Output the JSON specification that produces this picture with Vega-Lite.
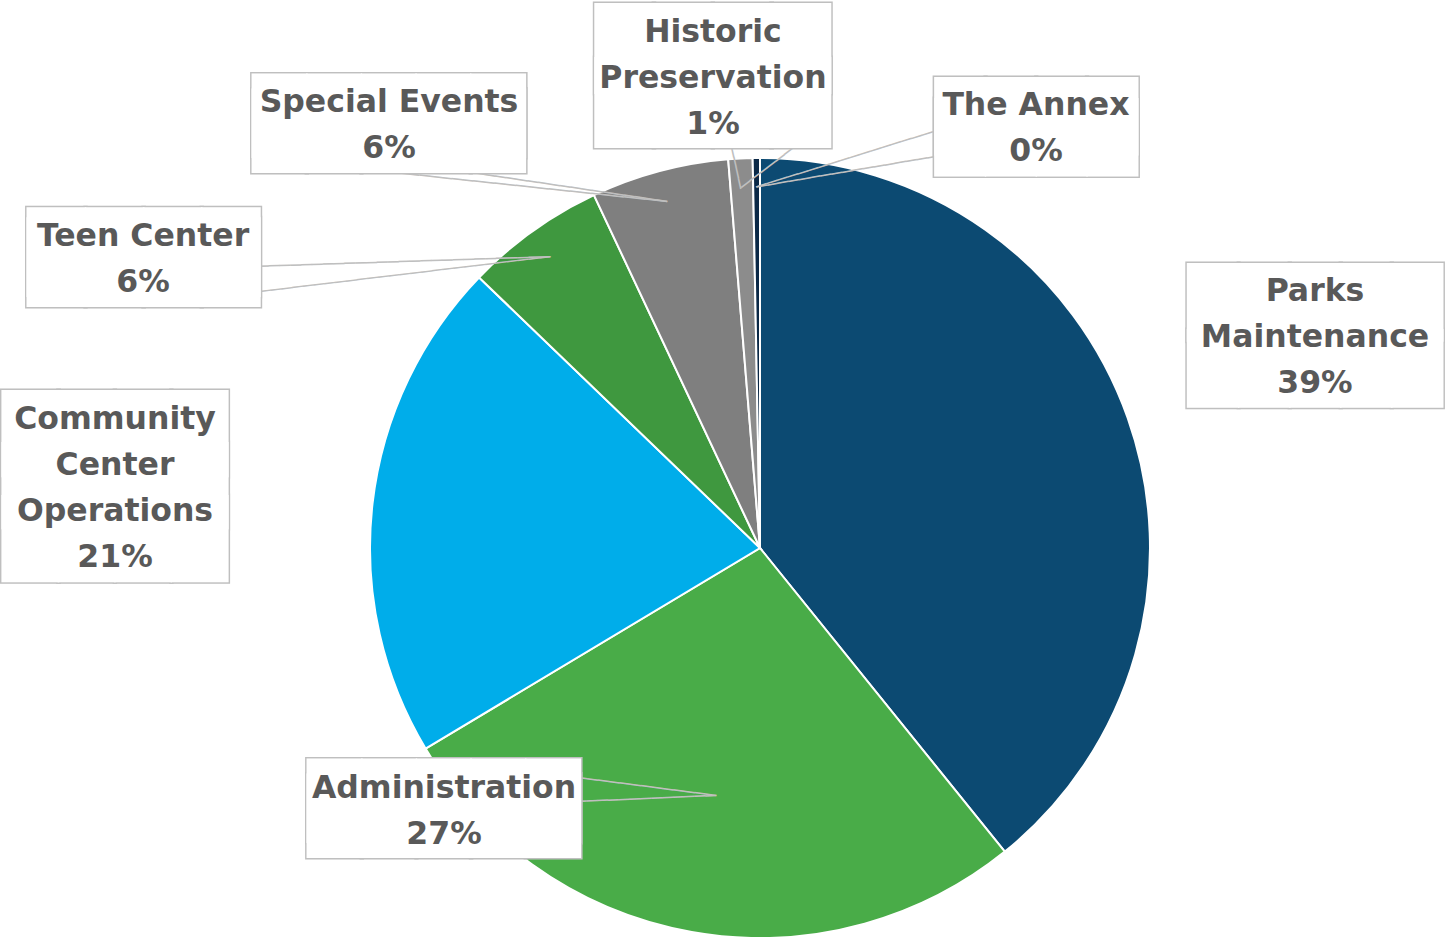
{
  "$schema": "https://vega.github.io/schema/vega-lite/v6.json",
  "width": 1370,
  "height": 778,
  "padding": {"left": 75, "top": 159, "right": 0, "bottom": 0},
  "autosize": {"type": "none"},
  "background": "white",
  "config": {"view": {"stroke": null}},
  "data": {
    "values": [
      {"category": "Parks Maintenance", "share": 0.392, "order": 1, "lines": ["Parks", "Maintenance", "39%"]},
      {"category": "Administration", "share": 0.272, "order": 2, "lines": ["Administration", "27%"]},
      {"category": "Community Center Operations", "share": 0.208, "order": 3, "lines": ["Community", "Center", "Operations", "21%"]},
      {"category": "Teen Center", "share": 0.058, "order": 4, "lines": ["Teen Center", "6%"]},
      {"category": "Special Events", "share": 0.057, "order": 5, "lines": ["Special Events", "6%"]},
      {"category": "Historic Preservation", "share": 0.010, "order": 6, "lines": ["Historic", "Preservation", "1%"]},
      {"category": "The Annex", "share": 0.003, "order": 7, "lines": ["The Annex", "0%"]}
    ]
  },
  "encoding": {
    "theta": {"field": "share", "type": "quantitative", "stack": true},
    "order": {"field": "order", "type": "quantitative", "sort": "ascending"},
    "detail": {"field": "category", "type": "nominal"}
  },
  "layer": [
    {
      "mark": {"type": "arc", "outerRadius": 390, "stroke": "white", "strokeWidth": 2},
      "encoding": {
        "color": {
          "field": "category",
          "type": "nominal",
          "scale": {
            "domain": ["Parks Maintenance", "Administration", "Community Center Operations", "Teen Center", "Special Events", "Historic Preservation", "The Annex"],
            "range": ["#0C4A72", "#49AC48", "#00ADEA", "#3F983F", "#7F7F7F", "#8C8C8C", "#0A2846"]
          },
          "legend": null
        }
      }
    },

    {"mark": {"type": "text", "radius": 360, "angle": 178.11, "font": "DejaVu Sans", "fontSize": 18, "align": "left", "baseline": "middle", "fill": "#BFBFBF"},
     "encoding": {"text": {"condition": {"test": "datum.category === 'Teen Center'", "value": "────────────────────────────"}, "value": ""}}},
    {"mark": {"type": "text", "radius": 360, "angle": 173.17, "font": "DejaVu Sans", "fontSize": 18, "align": "left", "baseline": "middle", "fill": "#BFBFBF"},
     "encoding": {"text": {"condition": {"test": "datum.category === 'Teen Center'", "value": "────────────────────────────"}, "value": ""}}},
    {"mark": {"type": "text", "radius": 360, "angle": -173.96, "font": "DejaVu Sans", "fontSize": 18, "align": "left", "baseline": "middle", "fill": "#BFBFBF"},
     "encoding": {"text": {"condition": {"test": "datum.category === 'Special Events'", "value": "─────────────────────────"}, "value": ""}}},
    {"mark": {"type": "text", "radius": 360, "angle": -171.6, "font": "DejaVu Sans", "fontSize": 18, "align": "left", "baseline": "middle", "fill": "#BFBFBF"},
     "encoding": {"text": {"condition": {"test": "datum.category === 'Special Events'", "value": "───────────────────"}, "value": ""}}},
    {"mark": {"type": "text", "radius": 360, "angle": -102.4, "font": "DejaVu Sans", "fontSize": 18, "align": "left", "baseline": "middle", "fill": "#BFBFBF"},
     "encoding": {"text": {"condition": {"test": "datum.category === 'Historic Preservation'", "value": "─────"}, "value": ""}}},
    {"mark": {"type": "text", "radius": 360, "angle": -37.3, "font": "DejaVu Sans", "fontSize": 18, "align": "left", "baseline": "middle", "fill": "#BFBFBF"},
     "encoding": {"text": {"condition": {"test": "datum.category === 'Historic Preservation'", "value": "───────"}, "value": ""}}},
    {"mark": {"type": "text", "radius": 360, "angle": -17.32, "font": "DejaVu Sans", "fontSize": 18, "align": "left", "baseline": "middle", "fill": "#BFBFBF"},
     "encoding": {"text": {"condition": {"test": "datum.category === 'The Annex'", "value": "──────────────────"}, "value": ""}}},
    {"mark": {"type": "text", "radius": 360, "angle": -9.65, "font": "DejaVu Sans", "fontSize": 18, "align": "left", "baseline": "middle", "fill": "#BFBFBF"},
     "encoding": {"text": {"condition": {"test": "datum.category === 'The Annex'", "value": "──────────────────"}, "value": ""}}},
    {"mark": {"type": "text", "radius": 250, "angle": -172.64, "font": "DejaVu Sans", "fontSize": 18, "align": "left", "baseline": "middle", "fill": "#BFBFBF"},
     "encoding": {"text": {"condition": {"test": "datum.category === 'Administration'", "value": "──────────────"}, "value": ""}}},
    {"mark": {"type": "text", "radius": 250, "angle": 177.5, "font": "DejaVu Sans", "fontSize": 18, "align": "left", "baseline": "middle", "fill": "#BFBFBF"},
     "encoding": {"text": {"condition": {"test": "datum.category === 'Administration'", "value": "──────────────"}, "value": ""}}},

    {"mark": {"type": "text", "radius": 365, "dx": 210.8, "dy": -101.9, "font": "DejaVu Sans", "fontSize": 66.4, "lineHeight": 66.7, "align": "center", "baseline": "alphabetic", "fill": "white", "stroke": "#BFBFBF", "strokeWidth": 3},
     "encoding": {"text": {"condition": {"test": "datum.category === 'Parks Maintenance'", "value": ["█████", "█████"]}, "value": ""}}},
    {"mark": {"type": "text", "radius": 365, "dx": -252.1, "dy": -82.5, "font": "DejaVu Sans", "fontSize": 71.0, "lineHeight": 15.3, "align": "center", "baseline": "alphabetic", "fill": "white", "stroke": "#BFBFBF", "strokeWidth": 3},
     "encoding": {"text": {"condition": {"test": "datum.category === 'Administration'", "value": ["█████", "█████"]}, "value": ""}}},
    {"mark": {"type": "text", "radius": 365, "dx": -282.3, "dy": -47.7, "font": "DejaVu Sans", "fontSize": 73.4, "lineHeight": 52.3, "align": "center", "baseline": "alphabetic", "fill": "white", "stroke": "#BFBFBF", "strokeWidth": 3},
     "encoding": {"text": {"condition": {"test": "datum.category === 'Community Center Operations'", "value": ["████", "████", "████"]}, "value": ""}}},
    {"mark": {"type": "text", "radius": 365, "dx": -403.8, "dy": 26.8, "font": "DejaVu Sans", "fontSize": 75.6, "lineHeight": 10, "align": "center", "baseline": "alphabetic", "fill": "white", "stroke": "#BFBFBF", "strokeWidth": 3},
     "encoding": {"text": {"condition": {"test": "datum.category === 'Teen Center'", "value": ["████", "████"]}, "value": ""}}},
    {"mark": {"type": "text", "radius": 365, "dx": -276.9, "dy": -55.4, "font": "DejaVu Sans", "fontSize": 71.0, "lineHeight": 15.3, "align": "center", "baseline": "alphabetic", "fill": "white", "stroke": "#BFBFBF", "strokeWidth": 3},
     "encoding": {"text": {"condition": {"test": "datum.category === 'Special Events'", "value": ["█████", "█████"]}, "value": ""}}},
    {"mark": {"type": "text", "radius": 365, "dx": -28.7, "dy": -108.4, "font": "DejaVu Sans", "fontSize": 76.6, "lineHeight": 53.9, "align": "center", "baseline": "alphabetic", "fill": "white", "stroke": "#BFBFBF", "strokeWidth": 3},
     "encoding": {"text": {"condition": {"test": "datum.category === 'Historic Preservation'", "value": ["████", "████"]}, "value": ""}}},
    {"mark": {"type": "text", "radius": 365, "dx": 279.9, "dy": -43.8, "font": "DejaVu Sans", "fontSize": 66.0, "lineHeight": 21.2, "align": "center", "baseline": "alphabetic", "fill": "white", "stroke": "#BFBFBF", "strokeWidth": 3},
     "encoding": {"text": {"condition": {"test": "datum.category === 'The Annex'", "value": ["████", "████"]}, "value": ""}}},

    {"mark": {"type": "text", "radius": 365, "dx": 210.8, "dy": -101.9, "font": "DejaVu Sans", "fontSize": 66.4, "lineHeight": 66.7, "align": "center", "baseline": "alphabetic", "fill": "white"},
     "encoding": {"text": {"condition": {"test": "datum.category === 'Parks Maintenance'", "value": ["█████", "█████"]}, "value": ""}}},
    {"mark": {"type": "text", "radius": 365, "dx": -252.1, "dy": -82.5, "font": "DejaVu Sans", "fontSize": 71.0, "lineHeight": 15.3, "align": "center", "baseline": "alphabetic", "fill": "white"},
     "encoding": {"text": {"condition": {"test": "datum.category === 'Administration'", "value": ["█████", "█████"]}, "value": ""}}},
    {"mark": {"type": "text", "radius": 365, "dx": -282.3, "dy": -47.7, "font": "DejaVu Sans", "fontSize": 73.4, "lineHeight": 52.3, "align": "center", "baseline": "alphabetic", "fill": "white"},
     "encoding": {"text": {"condition": {"test": "datum.category === 'Community Center Operations'", "value": ["████", "████", "████"]}, "value": ""}}},
    {"mark": {"type": "text", "radius": 365, "dx": -403.8, "dy": 26.8, "font": "DejaVu Sans", "fontSize": 75.6, "lineHeight": 10, "align": "center", "baseline": "alphabetic", "fill": "white"},
     "encoding": {"text": {"condition": {"test": "datum.category === 'Teen Center'", "value": ["████", "████"]}, "value": ""}}},
    {"mark": {"type": "text", "radius": 365, "dx": -276.9, "dy": -55.4, "font": "DejaVu Sans", "fontSize": 71.0, "lineHeight": 15.3, "align": "center", "baseline": "alphabetic", "fill": "white"},
     "encoding": {"text": {"condition": {"test": "datum.category === 'Special Events'", "value": ["█████", "█████"]}, "value": ""}}},
    {"mark": {"type": "text", "radius": 365, "dx": -28.7, "dy": -108.4, "font": "DejaVu Sans", "fontSize": 76.6, "lineHeight": 53.9, "align": "center", "baseline": "alphabetic", "fill": "white"},
     "encoding": {"text": {"condition": {"test": "datum.category === 'Historic Preservation'", "value": ["████", "████"]}, "value": ""}}},
    {"mark": {"type": "text", "radius": 365, "dx": 279.9, "dy": -43.8, "font": "DejaVu Sans", "fontSize": 66.0, "lineHeight": 21.2, "align": "center", "baseline": "alphabetic", "fill": "white"},
     "encoding": {"text": {"condition": {"test": "datum.category === 'The Annex'", "value": ["████", "████"]}, "value": ""}}},

    {"mark": {"type": "text", "radius": 365, "dx": 210.8, "dy": -134.5, "font": "DejaVu Sans", "fontWeight": "bold", "fontSize": 31.5, "fill": "#595959", "align": "center", "baseline": "middle", "lineHeight": 46},
     "encoding": {"text": {"condition": {"test": "datum.category === 'Parks Maintenance'", "field": "lines", "type": "nominal"}, "value": ""}}},
    {"mark": {"type": "text", "radius": 365, "dx": -252.1, "dy": -118.4, "font": "DejaVu Sans", "fontWeight": "bold", "fontSize": 31.5, "fill": "#595959", "align": "center", "baseline": "middle", "lineHeight": 46},
     "encoding": {"text": {"condition": {"test": "datum.category === 'Administration'", "field": "lines", "type": "nominal"}, "value": ""}}},
    {"mark": {"type": "text", "radius": 365, "dx": -282.3, "dy": -86.8, "font": "DejaVu Sans", "fontWeight": "bold", "fontSize": 31.5, "fill": "#595959", "align": "center", "baseline": "middle", "lineHeight": 46},
     "encoding": {"text": {"condition": {"test": "datum.category === 'Community Center Operations'", "field": "lines", "type": "nominal"}, "value": ""}}},
    {"mark": {"type": "text", "radius": 365, "dx": -404.3, "dy": -14.4, "font": "DejaVu Sans", "fontWeight": "bold", "fontSize": 31.5, "fill": "#595959", "align": "center", "baseline": "middle", "lineHeight": 46},
     "encoding": {"text": {"condition": {"test": "datum.category === 'Teen Center'", "field": "lines", "type": "nominal"}, "value": ""}}},
    {"mark": {"type": "text", "radius": 365, "dx": -276.9, "dy": -92.3, "font": "DejaVu Sans", "fontWeight": "bold", "fontSize": 31.5, "fill": "#595959", "align": "center", "baseline": "middle", "lineHeight": 46},
     "encoding": {"text": {"condition": {"test": "datum.category === 'Special Events'", "field": "lines", "type": "nominal"}, "value": ""}}},
    {"mark": {"type": "text", "radius": 365, "dx": -28.7, "dy": -150.5, "font": "DejaVu Sans", "fontWeight": "bold", "fontSize": 31.5, "fill": "#595959", "align": "center", "baseline": "middle", "lineHeight": 46},
     "encoding": {"text": {"condition": {"test": "datum.category === 'Historic Preservation'", "field": "lines", "type": "nominal"}, "value": ""}}},
    {"mark": {"type": "text", "radius": 365, "dx": 279.4, "dy": -77, "font": "DejaVu Sans", "fontWeight": "bold", "fontSize": 31.5, "fill": "#595959", "align": "center", "baseline": "middle", "lineHeight": 46},
     "encoding": {"text": {"condition": {"test": "datum.category === 'The Annex'", "field": "lines", "type": "nominal"}, "value": ""}}}
  ]
}
